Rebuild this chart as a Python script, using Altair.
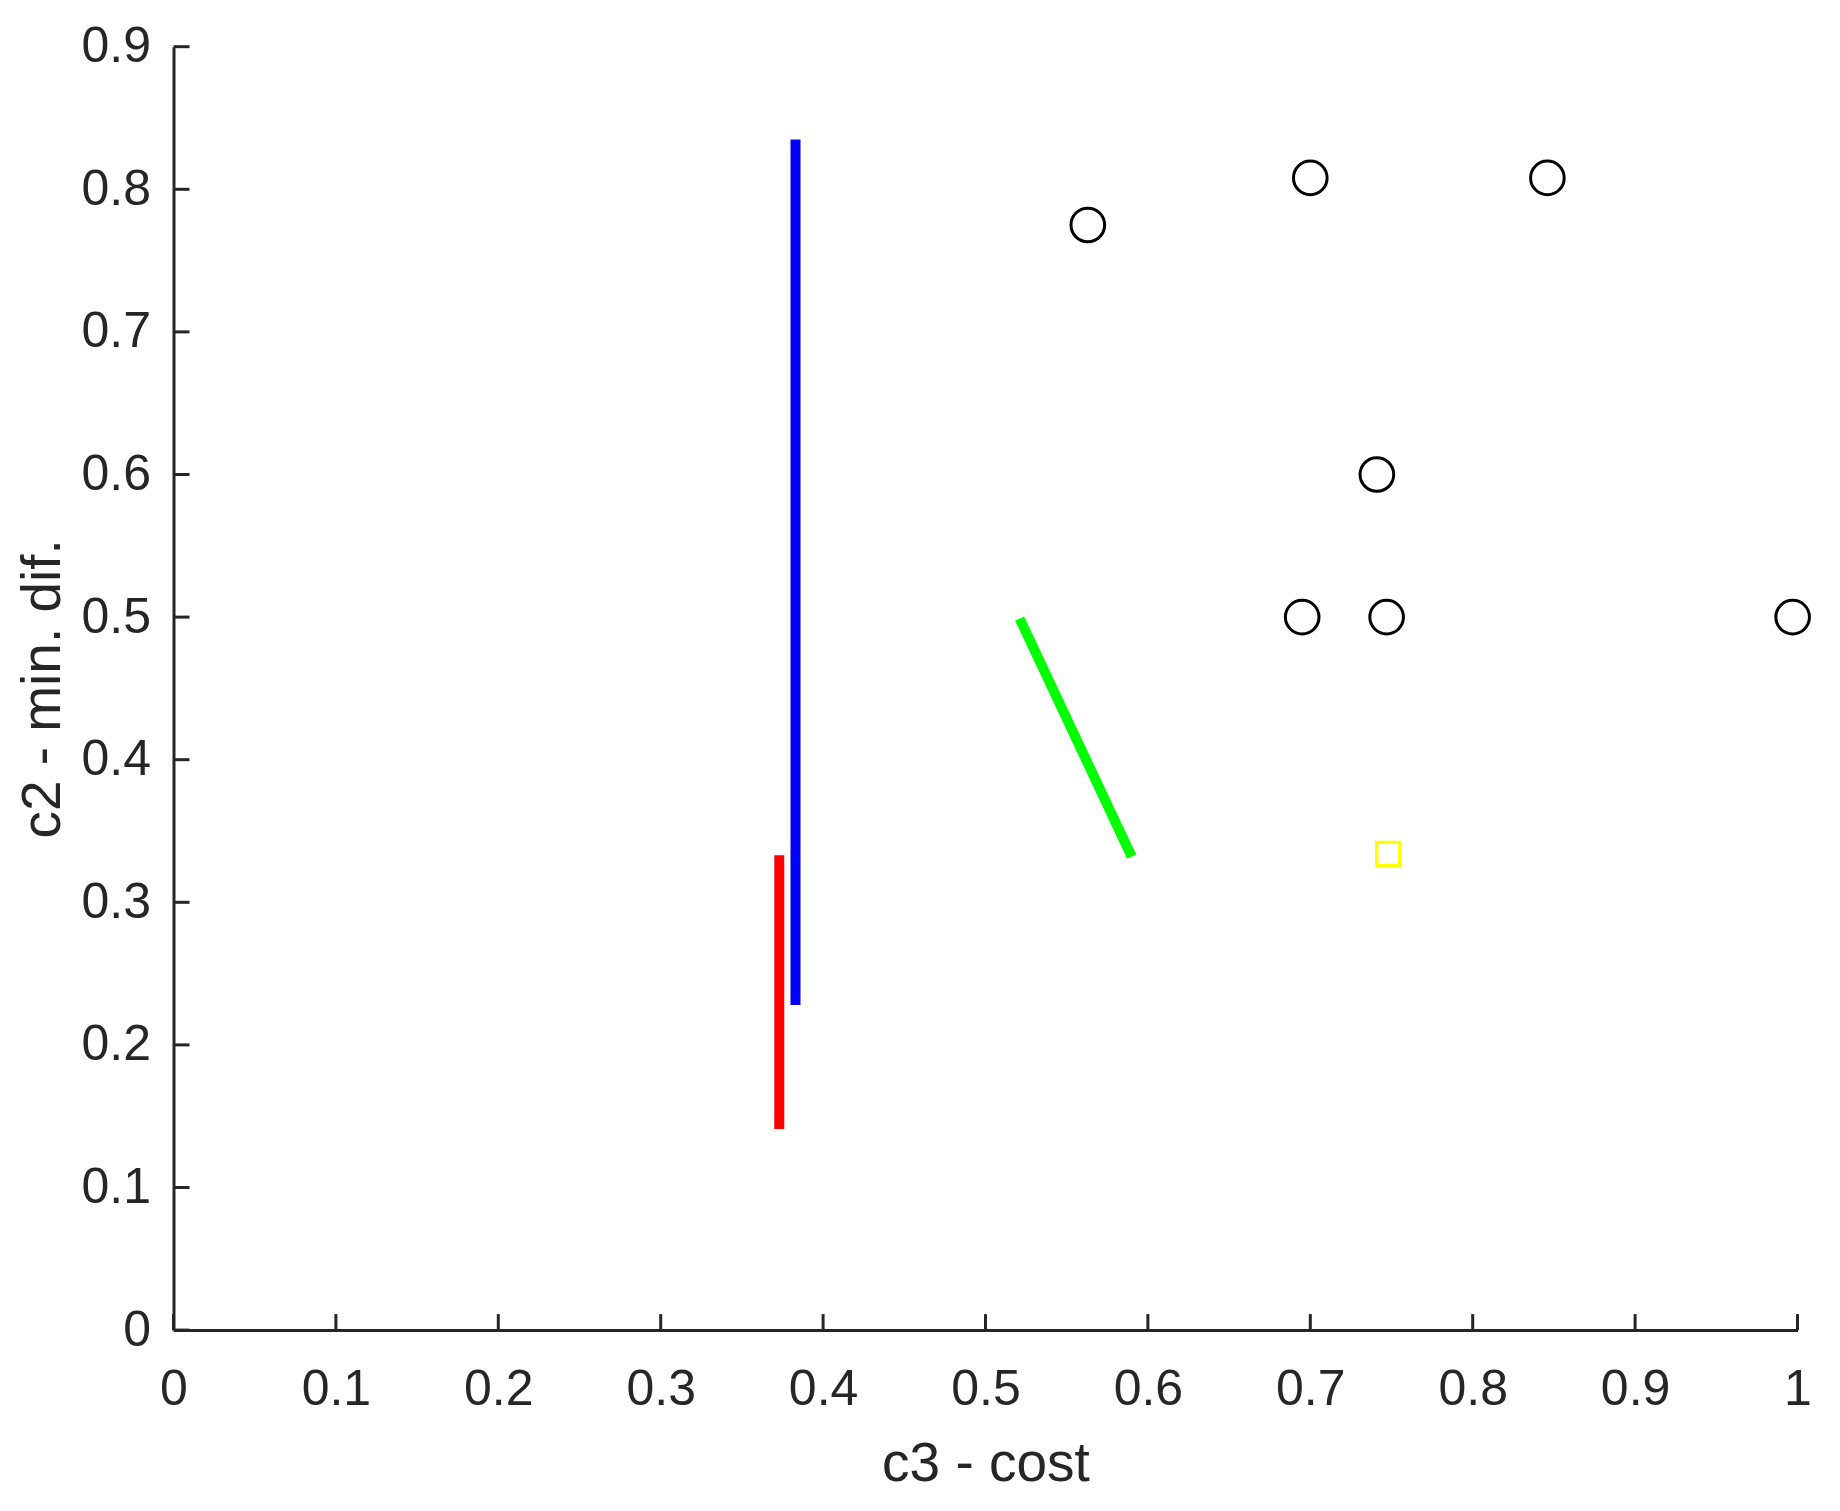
import altair as alt
import pandas as pd

# ---- data ----
circle_x = [0.563, 0.700, 0.846, 0.741, 0.695, 0.747, 0.997]
circle_y = [0.775, 0.808, 0.808, 0.600, 0.500, 0.500, 0.500]

square_x = [0.748]
square_y = [0.334]

line_names = ["blue", "blue", "red", "red", "green", "green"]
line_x = [0.383, 0.383, 0.373, 0.373, 0.521, 0.590]
line_y = [0.835, 0.228, 0.333, 0.141, 0.499, 0.332]
line_colors = {"blue": "#0000FF", "red": "#FF0000", "green": "#00FF00"}

x_ticks = [0, 0.1, 0.2, 0.3, 0.4, 0.5, 0.6, 0.7, 0.8, 0.9, 1]
y_ticks = [0, 0.1, 0.2, 0.3, 0.4, 0.5, 0.6, 0.7, 0.8, 0.9]

W = 1624
H = 1283.4
TICK = 16
AX = "#262626"
FONT = "Liberation Sans"

circles = pd.DataFrame({"x": circle_x, "y": circle_y})
squares = pd.DataFrame({"x": square_x, "y": square_y})
lines = pd.DataFrame({"name": line_names, "x": line_x, "y": line_y})
xt = pd.DataFrame({"v": x_ticks})
yt = pd.DataFrame({"v": y_ticks})

xscale = alt.Scale(domain=[0, 1], nice=False, zero=False)
yscale = alt.Scale(domain=[0, 0.9], nice=False, zero=False)

xaxis = alt.Axis(
    values=x_ticks, format=".1~f", ticks=False, grid=False,
    domainColor=AX, domainWidth=3,
    labelFont=FONT, labelFontSize=50, labelColor=AX,
    labelBaseline="alphabetic", labelPadding=74, labelFlush=False, labelOverlap=False,
    title="c3 - cost", titleFont=FONT, titleFontSize=55, titleFontWeight="normal",
    titleColor=AX, titleBaseline="alphabetic", titleY=150, titleX=W / 2,
    titleAlign="center",
)
yaxis = alt.Axis(
    values=y_ticks, format=".1~f", ticks=False, grid=False,
    domainColor=AX, domainWidth=3,
    labelFont=FONT, labelFontSize=50, labelColor=AX,
    labelPadding=23, labelFlush=False, labelOverlap=False,
    title="c2 - min. dif.", titleFont=FONT, titleFontSize=55, titleFontWeight="normal",
    titleColor=AX, titleAngle=270, titleBaseline="alphabetic", titleX=-114,
    titleY=H / 2, titleAlign="center",
)

base_axes = alt.Chart(circles).mark_point(opacity=0).encode(
    x=alt.X("x:Q", scale=xscale, axis=xaxis),
    y=alt.Y("y:Q", scale=yscale, axis=yaxis),
)

line_layer = alt.Chart(lines).mark_line(strokeWidth=10, strokeCap="butt").encode(
    x=alt.X("x:Q", scale=xscale),
    y=alt.Y("y:Q", scale=yscale),
    detail="name:N",
    color=alt.Color("name:N",
                    scale=alt.Scale(domain=list(line_colors.keys()),
                                    range=list(line_colors.values())),
                    legend=None),
)

circle_layer = alt.Chart(circles).mark_point(
    shape="circle", filled=False, stroke="#000000", strokeWidth=3, size=1130, opacity=1
).encode(
    x=alt.X("x:Q", scale=xscale),
    y=alt.Y("y:Q", scale=yscale),
)

square_layer = alt.Chart(squares).mark_point(
    shape="square", filled=False, stroke="#FFFF00", strokeWidth=3.3, size=529, opacity=1
).encode(
    x=alt.X("x:Q", scale=xscale),
    y=alt.Y("y:Q", scale=yscale),
)

xtick_layer = alt.Chart(xt).mark_rule(color=AX, strokeWidth=3).encode(
    x=alt.X("v:Q", scale=xscale),
    y=alt.value(H),
    y2=alt.value(H - TICK),
)
ytick_layer = alt.Chart(yt).mark_rule(color=AX, strokeWidth=3).encode(
    y=alt.Y("v:Q", scale=yscale),
    x=alt.value(0),
    x2=alt.value(TICK),
)

chart = alt.layer(
    base_axes, xtick_layer, ytick_layer, line_layer, circle_layer, square_layer
).properties(
    width=W, height=H,
    autosize=alt.AutoSizeParams(type="none"),
    padding={"left": 165.5, "top": 38.7, "right": 30, "bottom": 178},
    background="white",
).configure_view(stroke=None)

chart.save("out.html", embed_options={"renderer": "svg", "actions": False})
